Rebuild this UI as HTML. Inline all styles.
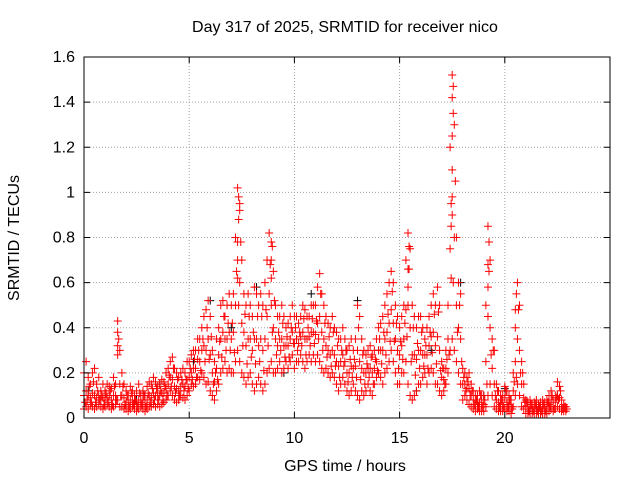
<!DOCTYPE html>
<html><head><meta charset="utf-8"><style>
body{margin:0;background:#fff;}
svg{display:block;font-family:"Liberation Sans",sans-serif;}
</style></head><body>
<svg id="chart" width="640" height="480">
<text x="345" y="32" font-size="16" text-anchor="middle">Day 317 of 2025, SRMTID for receiver nico</text>
<text x="345" y="471" font-size="16" text-anchor="middle">GPS time / hours</text>
<text x="19" y="238" font-size="16" text-anchor="middle" transform="rotate(-90 19 238)">SRMTID / TECUs</text>
<g id="grid"></g>
<g id="marks"></g>
<rect x="84" y="57" width="526" height="361" fill="none" stroke="#000" stroke-width="1"/>
<g id="ticks"></g>
</svg>
<script>
const xTicks=[0,5,10,15,20];
const yTicks=[0,0.2,0.4,0.6,0.8,1,1.2,1.4,1.6];
const yTickLabels=["0","0.2","0.4","0.6","0.8","1","1.2","1.4","1.6"];
const redHigh=[0.2,0.25,0.18,0.15,0.2,0.22,0.15,0.18,0.12,0.15,
0.12,0.15,0.14,0.13,0.18,0.15,0.43,0.3,0.2,0.15,
0.12,0.1,0.14,0.12,0.1,0.12,0.15,0.1,0.12,0.1,
0.14,0.16,0.15,0.18,0.16,0.14,0.15,0.17,0.16,0.2,
0.22,0.25,0.27,0.22,0.2,0.18,0.2,0.22,0.2,0.25,
0.25,0.28,0.3,0.3,0.35,0.35,0.4,0.45,0.48,0.52,
0.45,0.3,0.25,0.35,0.4,0.5,0.52,0.45,0.5,0.55,
0.5,0.55,0.8,1.02,0.95,0.7,0.55,0.5,0.55,0.5,
0.45,0.58,0.55,0.5,0.55,0.5,0.6,0.7,0.82,0.78,
0.65,0.5,0.45,0.45,0.5,0.45,0.4,0.42,0.45,0.5,
0.45,0.45,0.42,0.45,0.5,0.48,0.45,0.45,0.5,0.5,
0.5,0.58,0.64,0.55,0.5,0.45,0.42,0.4,0.45,0.4,
0.38,0.35,0.35,0.4,0.35,0.3,0.32,0.35,0.3,0.35,
0.5,0.45,0.35,0.3,0.28,0.3,0.32,0.28,0.3,0.35,
0.4,0.42,0.45,0.5,0.55,0.6,0.65,0.6,0.5,0.45,
0.4,0.45,0.5,0.7,0.82,0.75,0.5,0.45,0.4,0.45,
0.45,0.4,0.35,0.4,0.45,0.5,0.55,0.5,0.58,0.5,
0.25,0.22,0.3,0.5,1.2,1.52,1.3,0.8,0.6,0.55,
0.22,0.2,0.18,0.2,0.15,0.12,0.1,0.1,0.12,0.1,
0.1,0.5,0.85,0.7,0.35,0.3,0.15,0.12,0.1,0.1,
0.14,0.12,0.1,0.08,0.2,0.4,0.6,0.5,0.25,0.15,
0.08,0.07,0.08,0.06,0.07,0.08,0.06,0.07,0.08,0.07,
0.08,0.1,0.12,0.08,0.1,0.16,0.14,0.08,0.06,0.05];
const redMid=[0.1,0.12,0.1,0.09,0.11,0.1,0.09,0.1,0.08,0.09,
0.08,0.09,0.1,0.08,0.1,0.1,0.28,0.15,0.1,0.09,
0.07,0.06,0.08,0.08,0.07,0.07,0.08,0.07,0.08,0.06,
0.08,0.1,0.09,0.11,0.1,0.1,0.1,0.11,0.11,0.13,
0.15,0.18,0.17,0.14,0.13,0.12,0.14,0.15,0.14,0.17,
0.18,0.2,0.22,0.22,0.26,0.25,0.3,0.32,0.3,0.35,
0.28,0.2,0.16,0.22,0.28,0.35,0.38,0.35,0.35,0.38,
0.35,0.38,0.5,0.7,0.6,0.42,0.38,0.32,0.35,0.35,
0.3,0.35,0.35,0.32,0.35,0.3,0.35,0.45,0.55,0.5,
0.4,0.35,0.32,0.35,0.35,0.32,0.32,0.32,0.35,0.38,
0.33,0.35,0.33,0.36,0.38,0.35,0.35,0.36,0.38,0.38,
0.37,0.42,0.45,0.38,0.35,0.32,0.3,0.28,0.3,0.28,
0.25,0.23,0.25,0.28,0.25,0.2,0.2,0.23,0.22,0.23,
0.3,0.25,0.22,0.2,0.2,0.22,0.22,0.2,0.22,0.25,
0.3,0.3,0.3,0.35,0.38,0.42,0.48,0.42,0.35,0.3,
0.28,0.32,0.35,0.48,0.5,0.4,0.28,0.28,0.26,0.3,
0.3,0.28,0.28,0.28,0.32,0.36,0.38,0.32,0.36,0.3,
0.18,0.17,0.22,0.35,0.75,0.9,0.8,0.5,0.4,0.35,
0.15,0.15,0.13,0.13,0.1,0.08,0.06,0.07,0.07,0.06,
0.06,0.25,0.45,0.4,0.22,0.15,0.08,0.07,0.06,0.06,
0.09,0.07,0.06,0.05,0.12,0.25,0.35,0.3,0.15,0.09,
0.05,0.04,0.05,0.04,0.04,0.05,0.04,0.04,0.05,0.04,
0.05,0.06,0.08,0.05,0.07,0.1,0.09,0.05,0.04,0.04];
const redLow=[0.04,0.05,0.04,0.06,0.05,0.04,0.05,0.06,0.05,0.04,
0.05,0.06,0.05,0.04,0.05,0.06,0.08,0.05,0.05,0.04,
0.04,0.03,0.04,0.05,0.04,0.03,0.04,0.05,0.04,0.03,
0.04,0.05,0.05,0.06,0.05,0.06,0.05,0.06,0.07,0.08,
0.1,0.12,0.1,0.08,0.07,0.08,0.1,0.09,0.08,0.1,
0.12,0.15,0.14,0.15,0.18,0.17,0.2,0.18,0.15,0.16,
0.12,0.1,0.08,0.12,0.15,0.2,0.22,0.25,0.2,0.22,
0.2,0.2,0.25,0.3,0.25,0.2,0.18,0.15,0.18,0.2,
0.15,0.12,0.15,0.18,0.15,0.12,0.15,0.2,0.22,0.25,
0.2,0.2,0.22,0.25,0.2,0.22,0.25,0.22,0.25,0.28,
0.22,0.25,0.25,0.28,0.25,0.22,0.25,0.28,0.25,0.28,
0.25,0.28,0.25,0.22,0.2,0.22,0.2,0.18,0.2,0.18,
0.15,0.12,0.15,0.18,0.15,0.12,0.1,0.12,0.15,0.12,
0.1,0.08,0.12,0.1,0.12,0.15,0.12,0.1,0.15,0.18,
0.2,0.18,0.15,0.2,0.22,0.25,0.3,0.25,0.2,0.15,
0.15,0.2,0.2,0.25,0.15,0.1,0.08,0.1,0.12,0.15,
0.15,0.18,0.2,0.15,0.2,0.22,0.2,0.15,0.15,0.12,
0.1,0.12,0.15,0.2,0.3,0.35,0.3,0.25,0.2,0.15,
0.08,0.1,0.08,0.06,0.05,0.04,0.03,0.04,0.03,0.03,
0.03,0.05,0.1,0.15,0.1,0.05,0.04,0.03,0.03,0.03,
0.04,0.03,0.03,0.02,0.05,0.1,0.15,0.1,0.05,0.04,
0.02,0.02,0.02,0.02,0.02,0.02,0.02,0.02,0.02,0.02,
0.02,0.03,0.04,0.03,0.04,0.05,0.04,0.03,0.03,0.03];
const redHalf=[0.07,0.08,0.14,0.07,0.16,0.07,0.12,0.08,0.1,0.06,
0.11,0.07,0.12,0.06,0.14,0.08,0.35,0.1,0.14,0.06,
0.1,0.05,0.11,0.06,0.08,0.05,0.11,0.06,0.1,0.05,
0.11,0.07,0.13,0.08,0.13,0.08,0.12,0.08,0.14,0.1,
0.19,0.14,0.22,0.11,0.17,0.1,0.17,0.12,0.17,0.13,
0.22,0.17,0.26,0.18,0.3,0.21,0.35,0.25,0.4,0.26,
0.36,0.15,0.2,0.17,0.34,0.27,0.45,0.3,0.42,0.3,
0.42,0.29,0.65,0.5,0.78,0.32,0.46,0.24,0.45,0.27,
0.38,0.24,0.45,0.25,0.45,0.21,0.48,0.32,0.68,0.38,
0.52,0.28,0.38,0.3,0.42,0.27,0.36,0.27,0.4,0.33,
0.4,0.3,0.38,0.32,0.44,0.28,0.4,0.32,0.44,0.33,
0.43,0.35,0.55,0.3,0.42,0.27,0.36,0.23,0.38,0.23,
0.32,0.18,0.3,0.23,0.3,0.16,0.26,0.18,0.26,0.18,
0.4,0.17,0.28,0.15,0.24,0.18,0.27,0.15,0.26,0.21,
0.35,0.24,0.38,0.28,0.46,0.34,0.56,0.34,0.42,0.22,
0.34,0.26,0.42,0.36,0.66,0.25,0.4,0.19,0.33,0.22,
0.38,0.23,0.32,0.22,0.38,0.29,0.46,0.24,0.47,0.21,
0.22,0.15,0.26,0.28,0.95,0.6,1.05,0.38,0.5,0.25,
0.18,0.12,0.16,0.1,0.12,0.06,0.08,0.05,0.1,0.05,
0.08,0.15,0.65,0.28,0.3,0.1,0.12,0.05,0.08,0.05,
0.12,0.05,0.08,0.04,0.16,0.18,0.48,0.2,0.2,0.07,
0.07,0.03,0.06,0.03,0.06,0.03,0.05,0.03,0.06,0.03,
0.07,0.05,0.1,0.04,0.09,0.08,0.12,0.04,0.05,0.04];
const spikeTimes=[1.6,1.6,7.3,7.3,7.35,7.35,7.4,8.9,8.9,8.95,15.4,15.4,15.45,17.45,17.45,17.5,17.5,17.5,17.5,17.55,17.55,19.2,19.2,19.25,20.5,20.55];
const spikeValues=[0.32,0.38,0.62,0.78,0.88,0.98,0.92,0.62,0.7,0.76,0.58,0.66,0.76,0.62,0.85,0.98,1.1,1.25,1.42,1.35,1.47,0.58,0.68,0.78,0.48,0.55];
const blackTimes=[0.2,1.0,2.5,3.6,5.2,6.0,7.0,8.2,9.5,10.8,12.5,13.0,14.0,15.8,16.5,17.9,19.0,20.0,21.5,22.5];
const blackValues=[0.12,0.1,0.08,0.15,0.25,0.52,0.4,0.58,0.2,0.55,0.2,0.52,0.3,0.12,0.3,0.6,0.1,0.13,0.05,0.1];

const X0=84,X1=610,Y0=418,Y1=57;
const xs=v=>X0+(v/25)*(X1-X0);
const ys=v=>Y0-(v/1.6)*(Y0-Y1);
const NS="http://www.w3.org/2000/svg";
const grid=document.getElementById('grid'),ticks=document.getElementById('ticks'),marks=document.getElementById('marks');
function mk(tag,attrs,parent){const e=document.createElementNS(NS,tag);for(const k in attrs)e.setAttribute(k,attrs[k]);parent.appendChild(e);return e;}
yTicks.forEach((t,i)=>{
  const y=ys(t);
  if(i>0&&i<yTicks.length-1){const g=mk('line',{x1:X0,x2:X1,y1:y,y2:y,stroke:'#a0a0a0','stroke-dasharray':'1,2'},grid);
  
  }
  mk('line',{x1:X0,x2:X0+6,y1:y,y2:y,stroke:'#000'},ticks);
  mk('line',{x1:X1,x2:X1-6,y1:y,y2:y,stroke:'#000'},ticks);
  const l=mk('text',{x:X0-9,y:y+5,'font-size':16,'text-anchor':'end'},ticks);
  l.textContent=yTickLabels[i];
  
  
});
xTicks.forEach(t=>{
  const x=xs(t);
  if(t>0){const g=mk('line',{x1:x,x2:x,y1:Y0,y2:Y1,stroke:'#a0a0a0','stroke-dasharray':'1,2'},grid);
  
  }
  mk('line',{x1:x,x2:x,y1:Y0,y2:Y0-6,stroke:'#000'},ticks);
  mk('line',{x1:x,x2:x,y1:Y1,y2:Y1+6,stroke:'#000'},ticks);
  const l=mk('text',{x:x,y:Y0+25,'font-size':16,'text-anchor':'middle'},ticks);
  l.textContent=String(t);
  
  
});
function plus(t,v,color){
  const x=xs(t),y=ys(v);
  const p=mk('path',{d:`M${x-4},${y}h8M${x},${y-4}v8`,stroke:color,'stroke-width':1,fill:'none'},marks);
  
  
}
blackTimes.forEach((t,i)=>plus(t,blackValues[i],'#000'));
[redLow,redMid,redHigh].forEach(arr=>arr.forEach((v,i)=>plus(i*0.1,v,'#ff0000')));
redHalf.forEach((v,i)=>plus(i*0.1+0.05,v,'#ff0000'));
spikeTimes.forEach((t,i)=>plus(t,spikeValues[i],'#ff0000'));
</script>
</body></html>
